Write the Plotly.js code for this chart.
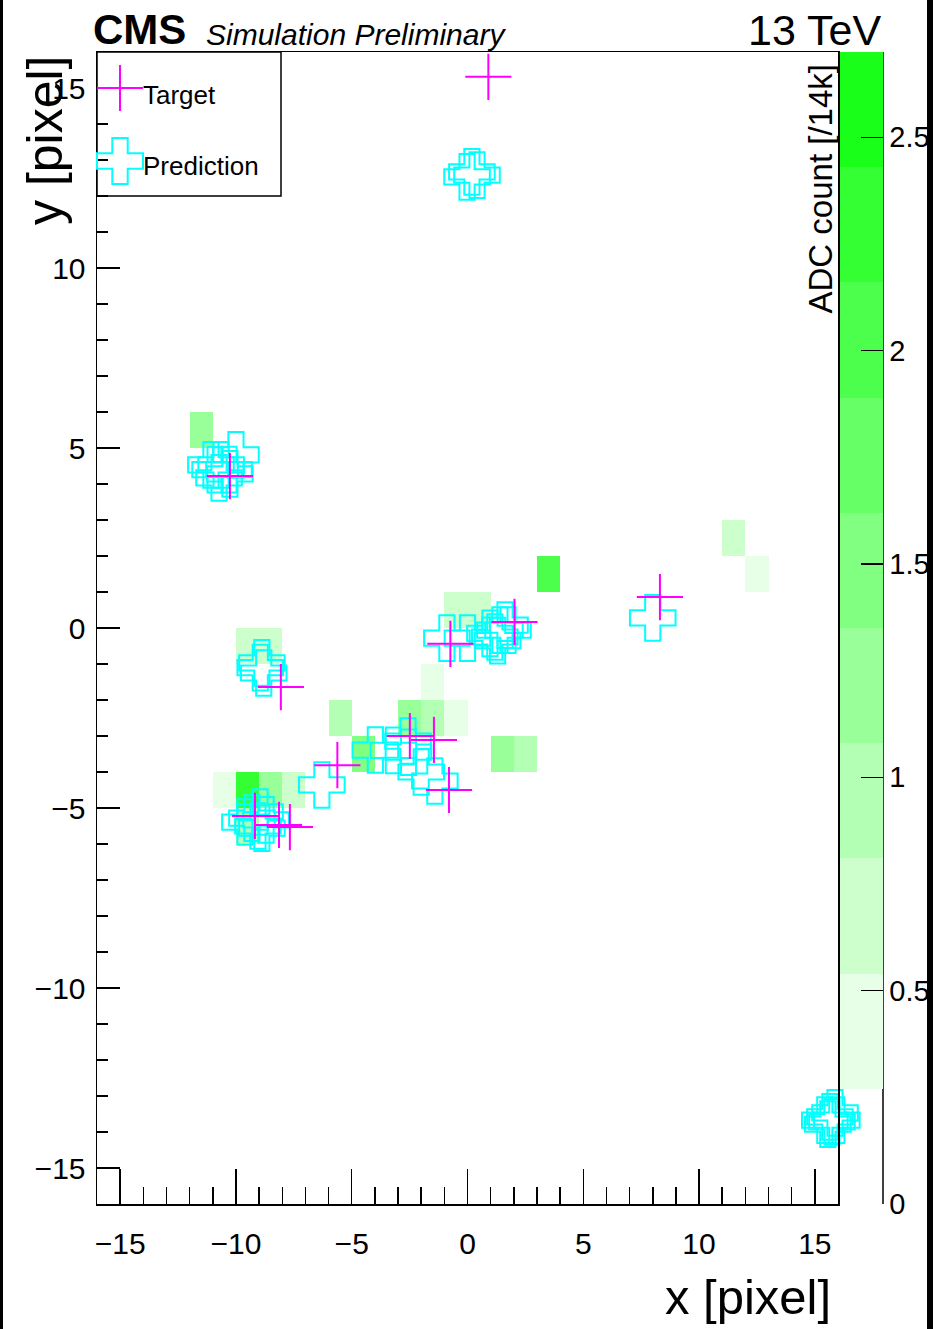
<!DOCTYPE html>
<html>
<head>
<meta charset="utf-8">
<script src="https://cdn.plot.ly/plotly-3.0.1.min.js"></script>
<style>
  html, body { margin: 0; padding: 0; background: #ffffff; }
  #chart { width: 933px; height: 1329px; }
</style>
</head>
<body>
<div id="chart"></div>
<script>
// ---------- data ----------
// ADC-count cells: bin centres (1x1 pixel bins) and value in units of 14k
const cellX = [-11.5, -9.5, -8.5, -5.5, -4.5, -10.5, -9.5, -8.5, -7.5, -9.5, 3.5, -0.5, 0.5, -1.5, -2.5, -1.5, -0.5, 1.5, 2.5, 11.5, 12.5];
const cellY = [5.5, -0.5, -0.5, -2.5, -3.5, -4.5, -4.5, -4.5, -4.5, -5.5, 1.5, 0.5, 0.5, -1.5, -2.5, -2.5, -2.5, -3.5, -3.5, 2.5, 1.5];
const cellADC = [1.22, 0.68, 0.68, 0.95, 1.49, 0.40, 2.30, 1.22, 0.68, 0.95, 2.03, 0.68, 0.68, 0.40, 1.22, 0.95, 0.40, 1.22, 0.95, 0.68, 0.40];

// Target hits
const targetX = [0.90, -10.26, -8.06, -5.62, -9.18, -8.14, -7.67, 2.03, -0.74, -2.49, -1.45, -0.80, 8.31];
const targetY = [15.31, 4.22, -1.64, -3.81, -5.22, -5.47, -5.53, 0.17, -0.44, -3.00, -3.11, -4.50, 0.86];

// Predicted hits
const predX = [-0.02, 0.41, 0.19,
  -10.00, -10.64, -11.08, -10.73, -10.26, -10.30, -10.90,
  -8.88, -8.80, -8.95,
  -6.29, -3.98, -3.20, -2.57, -2.55, -2.00, -1.41,
  -0.89, 0.00, 1.18, 1.40, 1.62, 1.75, 0.97, 1.30,
  -8.96, -9.61, -9.31, -8.88, -8.70, -9.05,
  8.00,
  15.43, 15.65, 15.87, 15.95, 15.56, 15.74];
const predY = [12.53, 12.58, 12.67,
  4.81, 4.53, 4.53, 4.17, 4.28, 4.40, 4.40,
  -0.97, -1.25, -1.10,
  -4.36, -3.39, -3.40, -3.14, -3.45, -4.00, -4.25,
  -0.28, -0.28, -0.25, -0.06, 0.08, -0.06, -0.15, -0.35,
  -5.11, -5.39, -5.28, -5.56, -5.33, -5.50,
  0.28,
  -13.67, -13.58, -13.47, -13.67, -13.78, -13.72];

const xTickVals = [-15, -10, -5, 0, 5, 10, 15];
const yTickVals = [-15, -10, -5, 0, 5, 10, 15];
const zTickVals = [0, 0.5, 1, 1.5, 2, 2.5];
const zMax = 2.7;

// ---------- build heatmap grid (32 x 32 pixel bins) ----------
const NB = 32;
const zGrid = [];
for (let r = 0; r < NB; r++) { zGrid.push(new Array(NB).fill(null)); }
for (let i = 0; i < cellX.length; i++) {
  const c = Math.floor(cellX[i] + 16), r = Math.floor(cellY[i] + 16);
  zGrid[r][c] = cellADC[i];
}

// 10-level green palette (ROOT style contours); lowest band left empty
const bandColors = ['rgba(255,255,255,0)', 'rgb(230,255,230)', 'rgb(204,255,204)', 'rgb(179,255,179)',
  'rgb(153,255,153)', 'rgb(128,255,128)', 'rgb(102,255,102)', 'rgb(77,255,77)', 'rgb(51,255,51)', 'rgb(26,255,26)'];
const cscale = [];
bandColors.forEach((c, k) => { cscale.push([k / 10, c]); cscale.push([(k + 1) / 10, c]); });

// ---------- geometry helpers (plot frame in px) ----------
const L = 97, T = 52, W = 741, H = 1152;
const PX = p => (p - L) / W;
const PY = p => (T + H - p) / H;
const FONT = 'Liberation Sans, Arial, Helvetica, sans-serif';

const heat = {
  type: 'heatmap', z: zGrid, x0: -15.5, dx: 1, y0: -15.5, dy: 1,
  zmin: 0, zmax: zMax, colorscale: cscale, zsmooth: false, hoverongaps: false,
  colorbar: {
    thickness: 43, thicknessmode: 'pixels', len: 1, lenmode: 'fraction',
    x: PX(840), xanchor: 'left', xpad: 0, y: 0.5, yanchor: 'middle', ypad: 0,
    outlinewidth: 0, tickvals: zTickVals, ticks: 'inside', ticklen: 22, tickwidth: 1.5,
    tickcolor: '#000', tickfont: { family: FONT, size: 29, color: '#000' }
  }
};
const pred = {
  type: 'scatter', mode: 'markers', x: predX, y: predY, cliponaxis: false, showlegend: false,
  hoverinfo: 'x+y', name: 'Prediction',
  marker: { symbol: 'cross-open', size: 38, color: '#00ffff', line: { color: '#00ffff', width: 2 } }
};
const targ = {
  type: 'scatter', mode: 'markers', x: targetX, y: targetY, cliponaxis: false, showlegend: false,
  hoverinfo: 'x+y', name: 'Target',
  marker: { symbol: 'cross-thin-open', size: 33, color: '#ff00ff', line: { color: '#ff00ff', width: 2 } }
};

// legend glyphs
const lc = { x: 120, y: 161, h: 23, a: 7.7 };
const crossPts = [[-lc.a, -lc.h], [lc.a, -lc.h], [lc.a, -lc.a], [lc.h, -lc.a], [lc.h, lc.a], [lc.a, lc.a],
  [lc.a, lc.h], [-lc.a, lc.h], [-lc.a, lc.a], [-lc.h, lc.a], [-lc.h, -lc.a], [-lc.a, -lc.a]];
const crossPath = crossPts.map((p, i) => (i ? 'L' : 'M') + PX(lc.x + p[0]).toFixed(5) + ',' + PY(lc.y + p[1]).toFixed(5)).join(' ') + ' Z';

const shapes = [
  // legend box
  { type: 'rect', xref: 'paper', yref: 'paper', x0: PX(97), x1: PX(281), y0: PY(196), y1: PY(52),
    line: { color: '#000', width: 1.5 }, fillcolor: 'rgba(255,255,255,0)', layer: 'above' },
  // Target glyph
  { type: 'line', xref: 'paper', yref: 'paper', x0: PX(97), x1: PX(143), y0: PY(88), y1: PY(88), line: { color: '#ff00ff', width: 2 } },
  { type: 'line', xref: 'paper', yref: 'paper', x0: PX(120), x1: PX(120), y0: PY(65), y1: PY(111), line: { color: '#ff00ff', width: 2 } },
  // Prediction glyph
  { type: 'path', xref: 'paper', yref: 'paper', path: crossPath, line: { color: '#00ffff', width: 2 } },
  // colorbar axis line
  { type: 'line', xref: 'paper', yref: 'paper', x0: PX(883), x1: PX(883), y0: 0, y1: 1, line: { color: '#000', width: 1.5 } },
  // black frame strips at the image edges
  { type: 'rect', xref: 'paper', yref: 'paper', x0: PX(0), x1: PX(3), y0: PY(1329), y1: PY(0), line: { width: 0 }, fillcolor: '#000' },
  { type: 'rect', xref: 'paper', yref: 'paper', x0: PX(927), x1: PX(933), y0: PY(1329), y1: PY(0), line: { width: 0 }, fillcolor: '#000' }
];

const ann = (text, x, y, xa, ya, size, extra) => Object.assign({
  text: text, xref: 'paper', yref: 'paper', x: PX(x), y: PY(y), xanchor: xa, yanchor: ya,
  showarrow: false, font: { family: FONT, size: size, color: '#000' }, borderpad: 0
}, extra || {});

const annotations = [
  ann('<b>CMS</b>', 92, 29, 'left', 'middle', 42),
  ann('<i>Simulation Preliminary</i>', 205, 34, 'left', 'middle', 30),
  ann('13 TeV', 882, 30, 'right', 'middle', 43),
  ann('x [pixel]', 832, 1297, 'right', 'middle', 49),
  ann('y [pixel]', 45, 54, 'center', 'top', 50, { textangle: -90 }),
  ann('ADC count [/14k]', 820, 64, 'center', 'top', 33, { textangle: -90 }),
  ann('Target', 142, 95, 'left', 'middle', 26),
  ann('Prediction', 142, 166, 'left', 'middle', 26)
];

const axisCommon = {
  range: [-16, 16], showgrid: false, zeroline: false, showline: true, linecolor: '#000', linewidth: 1.5,
  mirror: true, ticks: 'inside', tickcolor: '#000', tickwidth: 1.5,
  tickfont: { family: FONT, size: 30, color: '#000' }, fixedrange: true
};

const layout = {
  width: 933, height: 1329,
  margin: { l: L, r: 933 - L - W, t: T, b: 1329 - T - H, pad: 0, autoexpand: false },
  paper_bgcolor: '#ffffff', plot_bgcolor: '#ffffff',
  showlegend: false,
  xaxis: Object.assign({}, axisCommon, {
    tickmode: 'array', tickvals: xTickVals, ticklen: 35, ticklabelstandoff: 12,
    minor: { dtick: 1, tick0: 0, ticks: 'inside', ticklen: 17, tickcolor: '#000', tickwidth: 1.5 }
  }),
  yaxis: Object.assign({}, axisCommon, {
    tickmode: 'array', tickvals: yTickVals, ticklen: 23, ticklabelstandoff: 4,
    minor: { dtick: 1, tick0: 0, ticks: 'inside', ticklen: 11, tickcolor: '#000', tickwidth: 1.5 }
  }),
  shapes: shapes,
  annotations: annotations
};

Plotly.newPlot('chart', [heat, pred, targ], layout, { displayModeBar: false, staticPlot: true });
</script>
</body>
</html>
